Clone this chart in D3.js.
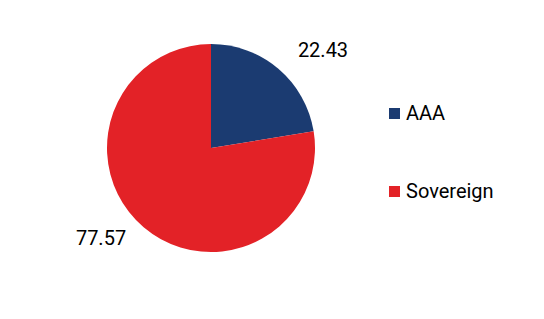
<!DOCTYPE html>
<html>
<head>
<meta charset="utf-8">
<script src="https://cdn.jsdelivr.net/npm/d3@7"></script>
<style>
  body { margin: 0; background: #fff; }
  text { font-family: Roboto, "Liberation Sans", sans-serif; fill: #000; }
</style>
</head>
<body>
<svg id="chart" width="544" height="319"></svg>
<script>
var categories = ["AAA", "Sovereign"];
var values = [22.43, 77.57];
var valueLabels = ["22.43", "77.57"];
var colors = ["#1b3b71", "#e32227"];

var svg = d3.select("#chart");
var cx = 211, cy = 148, r = 104;

var pie = d3.pie().sort(null).value(function(d) { return d; });
var arcs = pie(values);
var arc = d3.arc().innerRadius(0).outerRadius(r);

var g = svg.append("g").attr("transform", "translate(" + cx + "," + cy + ")");
g.selectAll("path").data(arcs).enter().append("path")
    .attr("d", arc)
    .attr("fill", function(d, i) { return colors[i]; });

// value labels outside the slices
var labelPos = [[112, -91], [-110, 97]];
g.selectAll("text.val").data(arcs).enter().append("text")
    .attr("class", "val")
    .attr("x", function(d, i) { return labelPos[i][0]; })
    .attr("y", function(d, i) { return labelPos[i][1]; })
    .attr("text-anchor", "middle")
    .style("font-size", "20px")
    .text(function(d, i) { return valueLabels[i]; });

// legend
var legend = svg.selectAll("g.leg").data(categories).enter().append("g")
    .attr("class", "leg")
    .attr("transform", function(d, i) { return "translate(389," + (108 + i * 78) + ")"; });
legend.append("rect")
    .attr("width", 11).attr("height", 11)
    .attr("fill", function(d, i) { return colors[i]; });
legend.append("text")
    .attr("x", 17).attr("y", 12)
    .style("font-size", "20px")
    .text(function(d) { return d; });
</script>
</body>
</html>
